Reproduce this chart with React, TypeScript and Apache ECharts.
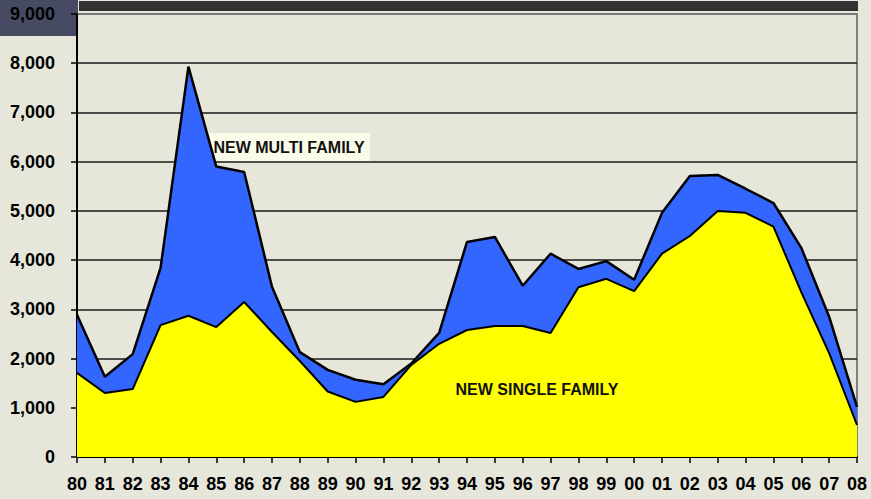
import React, { useEffect, useRef } from "react";
import * as echarts from "echarts";

const years = [
  "80", "81", "82", "83", "84", "85", "86", "87", "88", "89",
  "90", "91", "92", "93", "94", "95", "96", "97", "98", "99",
  "00", "01", "02", "03", "04", "05", "06", "07", "08",
];

const singleFamily = [
  1710, 1300, 1380, 2680, 2870, 2640, 3150, 2540, 1950, 1330,
  1120, 1220, 1870, 2300, 2580, 2660, 2660, 2520, 3450, 3620,
  3370, 4130, 4490, 5000, 4960, 4680, 3350, 2110, 650,
];

const multiFamily = [
  1180, 330, 710, 1160, 5060, 3260, 2640, 920, 180, 440,
  450, 260, 30, 220, 1790, 1810, 820, 1610, 370, 360,
  230, 830, 1220, 730, 490, 480, 900, 740, 370,
];

const yMax = 9000;
const yStep = 1000;

const multiLabel = "NEW MULTI FAMILY";
const singleLabel = "NEW SINGLE FAMILY";

export default function App() {
  const ref = useRef<HTMLDivElement>(null);

  useEffect(() => {
    if (!ref.current) return;
    const chart = echarts.init(ref.current, undefined, { renderer: "svg" });
    const splitColors: string[] = [];
    for (let v = 0; v <= yMax; v += yStep) splitColors.push(v === yMax ? "#7a7a7a" : "#1a1a1a");

    chart.setOption({
      animation: false,
      backgroundColor: "#e6e6da",
      textStyle: { fontFamily: "Liberation Sans, Arial, sans-serif" },
      grid: {
        left: 77,
        right: 14,
        top: 14,
        bottom: 42,
        show: true,
        borderColor: "#808080",
        borderWidth: 2,
        backgroundColor: "transparent",
      },
      xAxis: {
        type: "category",
        data: years,
        boundaryGap: false,
        axisLine: { lineStyle: { color: "#000", width: 2 } },
        axisTick: { show: true, interval: 0, length: 6, lineStyle: { color: "#000", width: 1.5 } },
        axisLabel: {
          interval: 0,
          margin: 18,
          color: "#000",
          fontSize: 18,
          fontWeight: "bold",
          fontFamily: "Liberation Sans, Arial, sans-serif",
        },
      },
      yAxis: {
        type: "value",
        min: 0,
        max: yMax,
        interval: yStep,
        axisLine: { show: true, lineStyle: { color: "#000", width: 2 } },
        axisTick: { show: true, length: 6, lineStyle: { color: "#000", width: 1.5 } },
        axisLabel: {
          margin: 22,
          color: "#000",
          fontSize: 18,
          fontWeight: "bold",
          fontFamily: "Liberation Sans, Arial, sans-serif",
          formatter: (v: number) => v.toLocaleString("en-US"),
        },
        splitLine: { show: true, lineStyle: { color: splitColors, width: 1.5 } },
      },
      graphic: [
        {
          type: "rect",
          z: -1,
          shape: { x: 0, y: 0, width: 78, height: 36 },
          style: { fill: "#464a62" },
        },
        {
          type: "rect",
          z: -1,
          shape: { x: 79, y: 1, width: 779, height: 10 },
          style: { fill: "#333333" },
        },
        {
          type: "group",
          z: 100,
          children: [
            {
              type: "rect",
              shape: { x: 209, y: 133, width: 161, height: 28 },
              style: { fill: "#fbfbe9" },
            },
            {
              type: "text",
              x: 289,
              y: 147,
              style: {
                text: multiLabel,
                fill: "#111",
                font: "bold 16px 'Liberation Sans', Arial, sans-serif",
                align: "center",
                verticalAlign: "middle",
              },
            },
          ],
        },
        {
          type: "text",
          z: 100,
          x: 537,
          y: 389,
          style: {
            text: singleLabel,
            fill: "#111",
            font: "bold 16px 'Liberation Sans', Arial, sans-serif",
            align: "center",
            verticalAlign: "middle",
          },
        },
      ],
      series: [
        {
          name: "New Single Family",
          type: "line",
          stack: "total",
          data: singleFamily,
          symbol: "none",
          lineStyle: { color: "#000", width: 2 },
          areaStyle: { color: "#ffff00", opacity: 1 },
        },
        {
          name: "New Multi Family",
          type: "line",
          stack: "total",
          data: multiFamily,
          symbol: "none",
          lineStyle: { color: "#000", width: 2.5 },
          areaStyle: { color: "#3366ff", opacity: 1 },
        },
      ],
    });
    return () => chart.dispose();
  }, []);

  return (
    <div
      ref={ref}
      style={{ position: "absolute", left: 0, top: 0, width: 871, height: 499 }}
    />
  );
}
